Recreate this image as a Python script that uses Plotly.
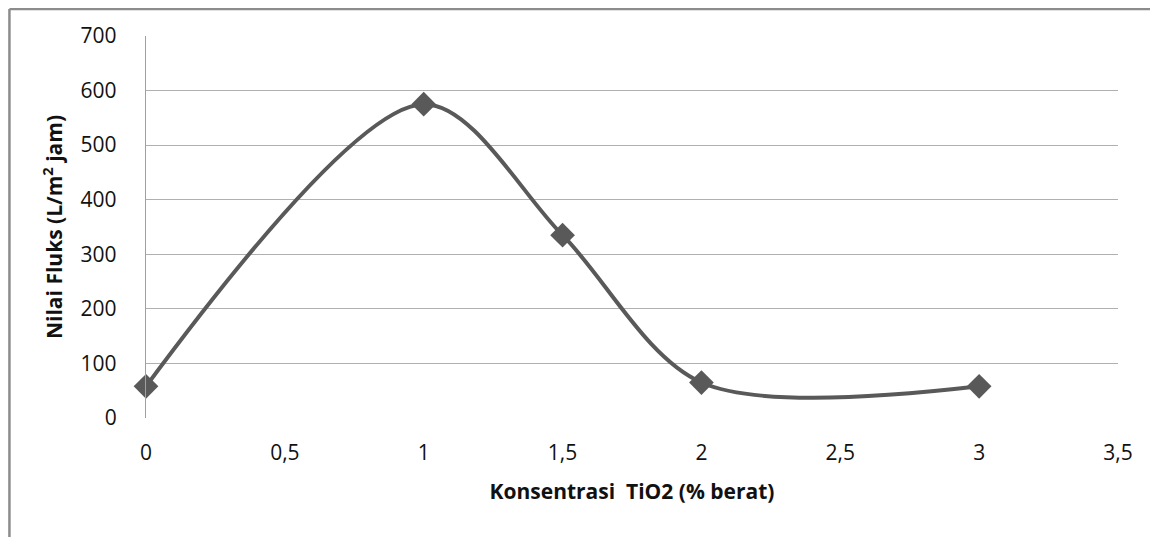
import plotly.graph_objects as go

konsentrasi = [0, 1, 1.5, 2, 3]
fluks = [58, 575, 335, 65, 58]
x_ticks = [0, 0.5, 1, 1.5, 2, 2.5, 3, 3.5]
x_tick_labels = ["0", "0,5", "1", "1,5", "2", "2,5", "3", "3,5"]
y_ticks = [0, 100, 200, 300, 400, 500, 600, 700]

fig = go.Figure()
fig.add_trace(go.Scatter(
    x=konsentrasi, y=fluks, mode="lines+markers",
    line=dict(color="#595959", width=4, shape="spline", smoothing=0.9),
    marker=dict(symbol="diamond", size=19, color="#595959"),
    showlegend=False, cliponaxis=False,
))

font_family = "Open Sans"
fig.update_layout(
    width=1150, height=529,
    margin=dict(l=138, r=40, t=28, b=119),
    plot_bgcolor="white", paper_bgcolor="white",
    font=dict(family=font_family, color="#111"),
    xaxis=dict(
        range=[0, 3.5], tickvals=x_ticks, ticktext=x_tick_labels,
        showgrid=False, zeroline=False, showline=False,
        ticks="", ticklabelstandoff=20,
        tickfont=dict(size=21, family=font_family, color="#111"),
        title=dict(text="<b>Konsentrasi  TiO2 (% berat)</b>", font=dict(size=21, family=font_family, color="#111"), standoff=19),
    ),
    yaxis=dict(
        range=[0, 700], tickvals=y_ticks,
        showgrid=True, gridcolor="#b0b0b0", gridwidth=1.3,
        zeroline=False, showline=True, linecolor="#a0a0a0", linewidth=1.3,
        ticks="", ticklabelstandoff=24,
        tickfont=dict(size=21, family=font_family, color="#111"),
        title=dict(text="<b>Nilai Fluks (L/m<sup>2</sup> jam)</b>", font=dict(size=21, family=font_family, color="#111"), standoff=12),
    ),
    shapes=[
        dict(type="line", xref="paper", yref="paper", x0=-0.1405, x1=1.2, y0=1.0705, y1=1.0705,
             line=dict(color="#8c8c8c", width=2.5)),
        dict(type="line", xref="paper", yref="paper", x0=-0.1405, x1=-0.1405, y0=-0.4, y1=1.0705,
             line=dict(color="#8c8c8c", width=2.5)),
    ],
)

fig.write_html("out.html")
